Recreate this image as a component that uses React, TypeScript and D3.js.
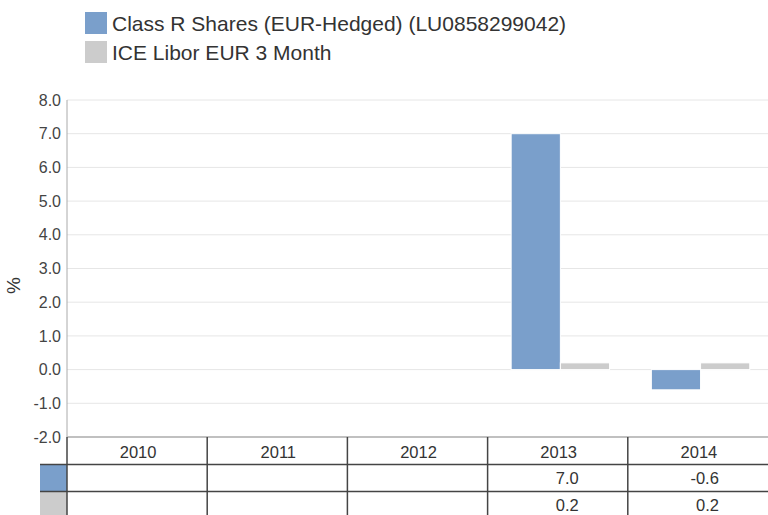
import React from "react";
import * as d3 from "d3";

const years = ["2010", "2011", "2012", "2013", "2014"];
const seriesNames = ["Class R Shares (EUR-Hedged) (LU0858299042)", "ICE Libor EUR 3 Month"];
const seriesColors = ["#7a9fcb", "#cccccc"];
const classR: (number | null)[] = [null, null, null, 7.0, -0.6];
const libor: (number | null)[] = [null, null, null, 0.2, 0.2];
const yTicks = [-2, -1, 0, 1, 2, 3, 4, 5, 6, 7, 8];

const W = 768;
const H = 515;
const left = 67;
const right = 768;
const top = 100;
const bottom = 437;
const font = "'Liberation Sans', Arial, sans-serif";

export default function App() {
  const series = [classR, libor];
  const y = d3.scaleLinear().domain([-2, 8]).range([bottom, top]);
  const x = d3.scaleBand<string>().domain(years).range([left, right]).padding(0);
  const bw = x.bandwidth();
  const inner = d3
    .scaleBand<number>()
    .domain([0, 1])
    .range([bw * 0.168, bw * 0.87])
    .padding(0);
  const y0 = y(0);
  const rowTops = [bottom, bottom + 27.5, bottom + 54.5];

  return (
    <svg
      width={W}
      height={H}
      style={{ position: "absolute", left: 0, top: 0, fontFamily: font }}
    >
      <rect x={0} y={0} width={W} height={H} fill="#fff" />
      {/* legend */}
      {seriesNames.map((n, i) => (
        <g key={n} transform={`translate(85, ${12 + i * 29})`}>
          <rect width={22} height={22} fill={seriesColors[i]} />
          <text x={27} y={19} fontSize={21} fill="#333">
            {n}
          </text>
        </g>
      ))}
      {/* grid */}
      {yTicks.map((t) => (
        <g key={t}>
          <line x1={left} x2={right} y1={y(t)} y2={y(t)} stroke="#e6e6e6" strokeWidth={1} />
          <text
            x={61}
            y={y(t)}
            dy="0.35em"
            textAnchor="end"
            fontSize={16}
            fill="#444"
          >
            {t.toFixed(1)}
          </text>
        </g>
      ))}
      <text
        transform={`translate(20, ${(top + bottom) / 2 + 17}) rotate(-90)`}
        textAnchor="middle"
        fontSize={19}
        fill="#333"
      >
        %
      </text>
      <line x1={left} x2={left} y1={top} y2={bottom} stroke="#aaa" strokeWidth={1} />
      {/* bars */}
      {series.map((s, si) =>
        s.map((v, i) => {
          if (v === null) return null;
          const bx = (x(years[i]) as number) + (inner(si) as number);
          const yy = Math.min(y(v), y0);
          const h = Math.abs(y(v) - y0);
          return (
            <rect
              key={`${si}-${i}`}
              x={bx}
              y={yy}
              width={inner.bandwidth()}
              height={h}
              fill={seriesColors[si]}
              stroke="#fff"
              strokeWidth={1}
            />
          );
        })
      )}
      {/* table */}
      <line x1={left} x2={right} y1={bottom} y2={bottom} stroke="#c0c0c0" strokeWidth={2} />
      <rect x={40} y={rowTops[1]} width={left - 40} height={rowTops[2] - rowTops[1]} fill={seriesColors[0]} />
      <rect x={40} y={rowTops[2]} width={left - 40} height={H - rowTops[2]} fill={seriesColors[1]} />
      {[rowTops[1], rowTops[2]].map((ry) => (
        <line key={ry} x1={40} x2={right} y1={ry} y2={ry} stroke="#444" strokeWidth={1.5} />
      ))}
      {years.map((yr) => (
        <line
          key={yr}
          x1={x(yr) as number}
          x2={x(yr) as number}
          y1={bottom}
          y2={H}
          stroke="#444"
          strokeWidth={1.5}
        />
      ))}
      {years.map((yr) => {
        const cx = (x(yr) as number) + bw / 2;
        return (
          <text key={yr} x={cx + 1} y={bottom + 20.5} textAnchor="middle" fontSize={16.5} fill="#333">
            {yr}
          </text>
        );
      })}
      {series.map((s, si) =>
        s.map((v, i) => {
          if (v === null) return null;
          const cx = (x(years[i]) as number) + bw / 2;
          return (
            <text
              key={`t${si}-${i}`}
              x={cx + 21}
              y={rowTops[si + 1] + 19.5}
              textAnchor="end"
              fontSize={16.5}
              fill="#333"
            >
              {v.toFixed(1)}
            </text>
          );
        })
      )}
    </svg>
  );
}
